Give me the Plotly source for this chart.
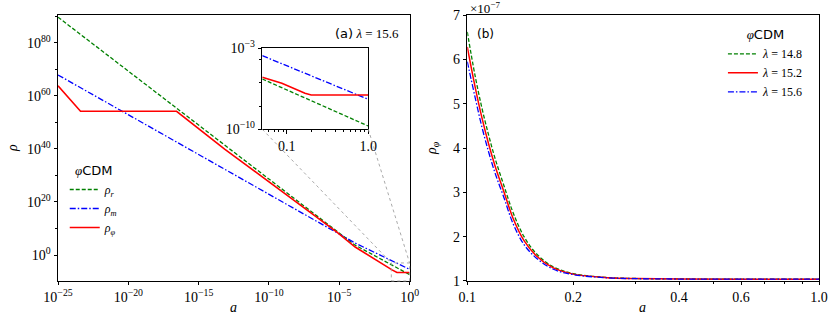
import numpy as np
import plotly.graph_objects as go

SERIF = "Liberation Serif, DejaVu Serif, serif"
SANS = "DejaVu Sans, Noto Sans, sans-serif"

GREEN = "#008000"
BLUE = "#0000ff"
RED = "#ff0000"

# panel (a), main axes: log10(a) and log10(rho)
log_a_r = [-25.0, -3.9, 0.0]
log_rho_r = [89.7, 3.8, -7.4]
log_a_m = [-25.0, -3.87, 0.0]
log_rho_m = [67.9, 4.5, -5.4]
log_a_phi = [-25.0, -23.4, -16.57, -15.62, -13.13, -5.17, -3.87, -1.25, -0.9, 0.0]
log_rho_phi = [63.8, 54.2, 54.2, 50.2, 39.85, 8.6, 3.0, -5.6, -6.6, -6.6]

# panel (a), inset
inset_log_a_r = [-1.3, 0.0]
inset_log_rho_r = [-5.67, -9.72]
inset_log_a_m = [-1.3, 0.0]
inset_log_rho_m = [-3.66, -7.42]
inset_log_a_phi = [-1.3, -1.06, -0.776, -0.7, 0.0]
inset_log_rho_phi = [-5.52, -6.04, -6.9, -7.05, -7.05]

# panel (b): rho_phi in units of 1e-7
a_b = [0.1, 0.105, 0.11, 0.115, 0.12, 0.127, 0.135, 0.145, 0.157, 0.175, 0.2, 0.25, 0.3, 0.4, 0.6, 1.0]
rho_l148 = [6.62, 5.67, 4.91, 4.29, 3.76, 3.16, 2.54, 2.0, 1.62, 1.325, 1.167, 1.078, 1.057, 1.046, 1.042, 1.04]
rho_l152 = [6.28, 5.42, 4.69, 4.09, 3.59, 3.02, 2.41, 1.91, 1.57, 1.30, 1.155, 1.075, 1.055, 1.045, 1.042, 1.04]
rho_l156 = [5.95, 5.18, 4.48, 3.91, 3.43, 2.89, 2.29, 1.82, 1.52, 1.27, 1.145, 1.072, 1.053, 1.044, 1.041, 1.04]

main_xticks = [-25, -20, -15, -10, -5, 0]
main_yticks = [0, 20, 40, 60, 80]
b_xticks = [0.1, 0.2, 0.4, 0.6, 1.0]
b_xtick_text = ["0.1", "0.2", "0.4", "0.6", "1.0"]

# layout geometry (paper fractions)
X_MAIN = [0.0699, 0.4935]
X_INSET = [0.316, 0.4437]
X_B = [0.563, 0.9868]
Y_PANEL = [0.1219, 0.953]
Y_INSET = [0.596, 0.85]
MAIN_XR = [-25, 0]
MAIN_YR = [-9.8, 90.5]
INSET_XR = [-1.3, 0]
INSET_YR = [-10, -3]


def pow10(vals):
    return np.power(10.0, np.asarray(vals, dtype=float))


def sup_label(e):
    return "10<sup>%s</sup>" % (str(e).replace("-", "\u2212"))


def to_paper(v, rng, dom):
    return dom[0] + (v - rng[0]) / (rng[1] - rng[0]) * (dom[1] - dom[0])


def label(fig, text, px, py, size=14, family=SERIF, angle=0, xanchor="center"):
    fig.add_annotation(text=text, x=px / 830, y=1 - py / 320, xref="paper", yref="paper",
                       xanchor=xanchor, yanchor="middle", showarrow=False, textangle=angle,
                       font=dict(family=family, size=size, color="black"))


rho_r_leg = "<i>ρ</i><sub><i>r</i></sub>"
rho_m_leg = "<i>ρ</i><sub><i>m</i></sub>"
rho_phi_leg = "<i>ρ</i><sub><i>φ</i></sub>"
phicdm = '<span style="font-family:Liberation Serif"><i>φ</i></span>CDM'

dash_r = "4px,2px"
dash_m = "6px,2px,1.5px,2px"

fig = go.Figure()

# main panel (a)
fig.add_trace(go.Scatter(x=pow10(log_a_r), y=pow10(log_rho_r), mode="lines", name=rho_r_leg,
                         line=dict(color=GREEN, width=1.3, dash=dash_r), legend="legend",
                         xaxis="x", yaxis="y"))
fig.add_trace(go.Scatter(x=pow10(log_a_m), y=pow10(log_rho_m), mode="lines", name=rho_m_leg,
                         line=dict(color=BLUE, width=1.3, dash=dash_m), legend="legend",
                         xaxis="x", yaxis="y"))
fig.add_trace(go.Scatter(x=pow10(log_a_phi), y=pow10(log_rho_phi), mode="lines", name=rho_phi_leg,
                         line=dict(color=RED, width=1.6), legend="legend",
                         xaxis="x", yaxis="y"))

# inset
fig.add_trace(go.Scatter(x=pow10(inset_log_a_r), y=pow10(inset_log_rho_r), mode="lines",
                         line=dict(color=GREEN, width=1.3, dash=dash_r), showlegend=False,
                         xaxis="x2", yaxis="y2"))
fig.add_trace(go.Scatter(x=pow10(inset_log_a_m), y=pow10(inset_log_rho_m), mode="lines",
                         line=dict(color=BLUE, width=1.3, dash=dash_m), showlegend=False,
                         xaxis="x2", yaxis="y2"))
fig.add_trace(go.Scatter(x=pow10(inset_log_a_phi), y=pow10(inset_log_rho_phi), mode="lines",
                         line=dict(color=RED, width=1.6), showlegend=False,
                         xaxis="x2", yaxis="y2"))

# panel (b)
fig.add_trace(go.Scatter(x=a_b, y=rho_l148, mode="lines", name="<i>λ</i> = 14.8", line_shape="spline",
                         line=dict(color=GREEN, width=1.3, dash=dash_r), legend="legend2",
                         xaxis="x3", yaxis="y3"))
fig.add_trace(go.Scatter(x=a_b, y=rho_l152, mode="lines", name="<i>λ</i> = 15.2", line_shape="spline",
                         line=dict(color=RED, width=1.5), legend="legend2",
                         xaxis="x3", yaxis="y3"))
fig.add_trace(go.Scatter(x=a_b, y=rho_l156, mode="lines", name="<i>λ</i> = 15.6", line_shape="spline",
                         line=dict(color=BLUE, width=1.3, dash=dash_m), legend="legend2",
                         xaxis="x3", yaxis="y3"))

axis_common = dict(showline=True, mirror=True, linecolor="black", linewidth=1, showgrid=False,
                   zeroline=False, ticks="outside", ticklen=3.5, tickwidth=0.8, tickcolor="black",
                   automargin=False, tickfont=dict(family=SERIF, size=14, color="black"))
minor_common = dict(ticks="outside", ticklen=2, tickwidth=0.6, tickcolor="black", showgrid=False)

fig.update_layout(
    width=830, height=320,
    margin=dict(l=0, r=0, t=0, b=0, pad=0, autoexpand=False),
    paper_bgcolor="white", plot_bgcolor="white",
    font=dict(family=SERIF, size=12, color="black"),
    xaxis=dict(axis_common, type="log", range=MAIN_XR, domain=X_MAIN, anchor="y",
               tickvals=pow10(main_xticks), ticktext=[sup_label(e) for e in main_xticks]),
    yaxis=dict(axis_common, type="log", range=MAIN_YR, domain=Y_PANEL, anchor="x",
               tickvals=pow10(main_yticks), ticktext=[sup_label(e) for e in main_yticks],
               minor=dict(minor_common, tickvals=pow10([10, 30, 50, 70, 90]))),
    xaxis2=dict(axis_common, type="log", range=INSET_XR, domain=X_INSET, anchor="y2",
                tickvals=[0.1, 1.0], ticktext=["0.1", "1.0"],
                minor=dict(minor_common, tickvals=[0.06, 0.07, 0.08, 0.09, 0.2, 0.3, 0.4, 0.5, 0.6, 0.7, 0.8, 0.9])),
    yaxis2=dict(axis_common, type="log", range=INSET_YR, domain=Y_INSET, anchor="x2",
                tickvals=[1e-10, 1e-3], ticktext=[sup_label(-10), sup_label(-3)],
                minor=dict(minor_common, tickvals=[1e-8, 1e-6, 1e-4])),
    xaxis3=dict(axis_common, type="log", range=[-1, 0], domain=X_B, anchor="y3",
                tickvals=b_xticks, ticktext=b_xtick_text,
                minor=dict(minor_common, tickvals=[0.3, 0.5, 0.7, 0.8, 0.9])),
    yaxis3=dict(axis_common, range=[1, 7], domain=Y_PANEL, anchor="x3",
                tickvals=[1, 2, 3, 4, 5, 6, 7]),
    legend=dict(x=0.078, y=0.506, xanchor="left", yanchor="top", bgcolor="rgba(0,0,0,0)",
                font=dict(family=SERIF, size=12),
                title=dict(text=phicdm, side="top center", font=dict(family=SANS, size=13))),
    legend2=dict(x=0.871, y=0.93, xanchor="left", yanchor="top", bgcolor="rgba(0,0,0,0)",
                 font=dict(family=SERIF, size=12),
                 title=dict(text=phicdm, side="top center", font=dict(family=SANS, size=13))),
)

# zoom box on main axes and connectors to the inset
bx0 = to_paper(INSET_XR[0], MAIN_XR, X_MAIN)
bx1 = to_paper(INSET_XR[1], MAIN_XR, X_MAIN)
by0 = to_paper(max(INSET_YR[0], MAIN_YR[0]), MAIN_YR, Y_PANEL)
by1 = to_paper(INSET_YR[1], MAIN_YR, Y_PANEL)
dotted = dict(color="#a0a0a0", width=0.9, dash="dot")
fig.add_shape(type="rect", xref="paper", yref="paper", x0=bx0, x1=bx1, y0=by0, y1=by1, line=dotted)
fig.add_shape(type="line", xref="paper", yref="paper", x0=X_INSET[0], y0=Y_INSET[0], x1=bx0, y1=by1, line=dotted)
fig.add_shape(type="line", xref="paper", yref="paper", x0=X_INSET[1], y0=Y_INSET[0], x1=bx1, y1=by1, line=dotted)

# axis titles and panel labels
label(fig, "<i>a</i>", 233, 307)
label(fig, "<i>a</i>", 642, 307)
label(fig, "<i>ρ</i>", 12, 148, angle=-90)
label(fig, "<i>ρ</i><sub><i>φ</i></sub>", 432, 148, angle=-90)
label(fig, '<span style="font-family:DejaVu Sans">(a)</span> <i>λ</i> = 15.6', 401, 33, size=13, xanchor="right")
label(fig, "(b)", 485, 34, size=12, family=SANS)
label(fig, "×10<sup>\u22127</sup>", 468, 8, size=13, xanchor="left")

fig.write_html("out.html", config={"displayModeBar": False},
               post_script="document.body.style.margin='0px';")
